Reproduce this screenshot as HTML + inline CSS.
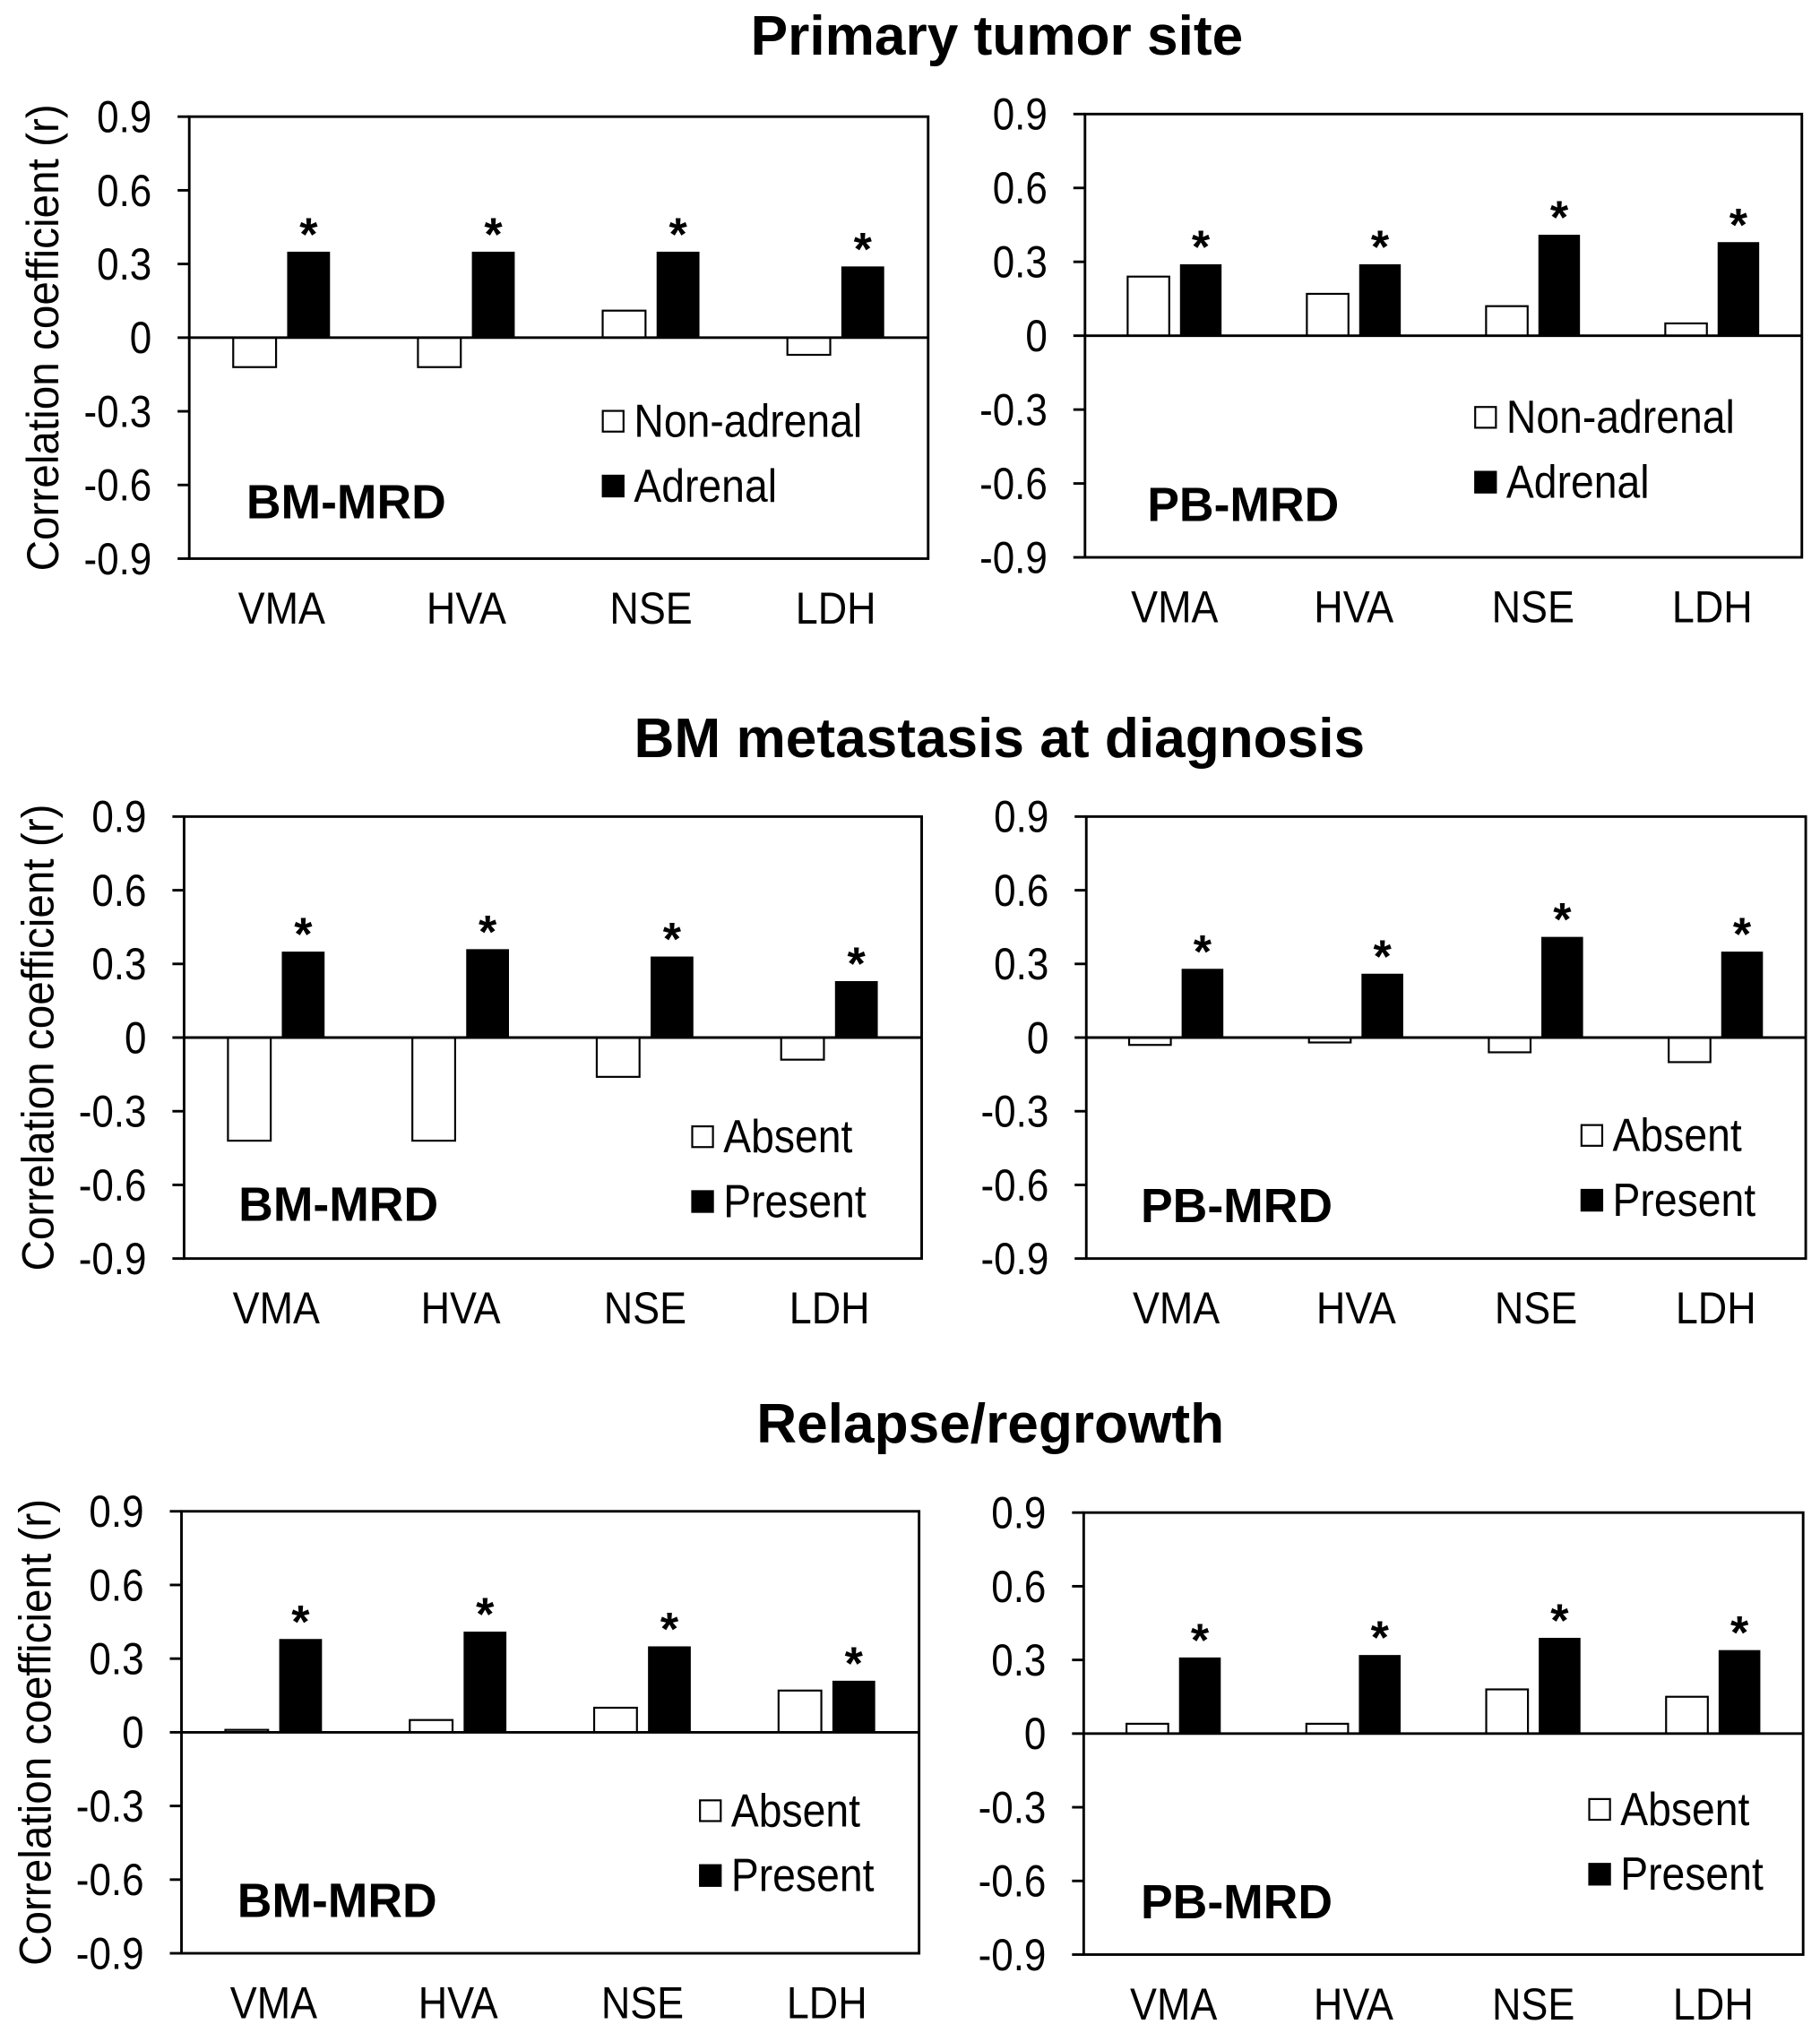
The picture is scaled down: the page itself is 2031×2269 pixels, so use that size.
<!DOCTYPE html>
<html><head><meta charset="utf-8"><style>
html,body{margin:0;padding:0;background:#fff}
svg{display:block}
text{font-family:"Liberation Sans",Arial,sans-serif;fill:#000}
</style></head><body>
<svg id="chart" width="2031" height="2269" viewBox="0 0 1404 1568.5" preserveAspectRatio="none" xmlns="http://www.w3.org/2000/svg">
<text x="769" y="42" font-size="43" font-weight="bold" text-anchor="middle">Primary tumor site</text>
<text x="771" y="584" font-size="43" font-weight="bold" text-anchor="middle">BM metastasis at diagnosis</text>
<text x="764" y="1113" font-size="43" font-weight="bold" text-anchor="middle">Relapse/regrowth</text>
</svg>
<script>
const categories = ["VMA","HVA","NSE","LDH"];
const tickValues = [0.9,0.6,0.3,0,-0.3,-0.6,-0.9];
const tickLabels = ["0.9","0.6","0.3","0","-0.3","-0.6","-0.9"];
const tlWhite = [-0.12,-0.12,0.11,-0.07];
const tlBlack = [0.35,0.35,0.35,0.29];
const trWhite = [0.24,0.17,0.12,0.05];
const trBlack = [0.29,0.29,0.41,0.38];
const mlWhite = [-0.42,-0.42,-0.16,-0.09];
const mlBlack = [0.35,0.36,0.33,0.23];
const mrWhite = [-0.03,-0.02,-0.06,-0.10];
const mrBlack = [0.28,0.26,0.41,0.35];
const blWhite = [0.01,0.05,0.10,0.17];
const blBlack = [0.38,0.41,0.35,0.21];
const brWhite = [0.04,0.04,0.18,0.15];
const brBlack = [0.31,0.32,0.39,0.34];
const legendA = ["Non-adrenal","Adrenal"];
const legendB = ["Absent","Present"];

const NS="http://www.w3.org/2000/svg";
const svg=document.getElementById('chart');
function mk(tag,attrs,parent){const e=document.createElementNS(NS,tag);for(const k in attrs)e.setAttribute(k,attrs[k]);(parent||svg).appendChild(e);return e;}

const panels=[
 {id:'tl',x0:146,x1:716,y0:90,y1:431,w:tlWhite,b:tlBlack,leg:legendA,lx:465,ly:325,lab:'BM-MRD',labx:190,laby:387,yt:true},
 {id:'tr',x0:837,x1:1390,y0:88,y1:430,w:trWhite,b:trBlack,leg:legendA,lx:1138,ly:322,lab:'PB-MRD',labx:885,laby:389,yt:false},
 {id:'ml',x0:142,x1:711,y0:630,y1:971,w:mlWhite,b:mlBlack,leg:legendB,lx:534,ly:877,lab:'BM-MRD',labx:184,laby:929,yt:true},
 {id:'mr',x0:838,x1:1393,y0:630,y1:971,w:mrWhite,b:mrBlack,leg:legendB,lx:1220,ly:876,lab:'PB-MRD',labx:880,laby:930,yt:false},
 {id:'bl',x0:140,x1:709,y0:1166,y1:1507,w:blWhite,b:blBlack,leg:legendB,lx:540,ly:1397,lab:'BM-MRD',labx:183,laby:1466,yt:true},
 {id:'br',x0:836,x1:1391,y0:1167,y1:1508,w:brWhite,b:brBlack,leg:legendB,lx:1226,ly:1396,lab:'PB-MRD',labx:880,laby:1467,yt:false}
];

panels.forEach(p=>{
  const g=mk('g',{});
  
  
  const yS=v=>p.y0+(0.9-v)/1.8*(p.y1-p.y0);
  const gw=(p.x1-p.x0)/4;
  const bw=gw*0.232, gap=gw*0.06;
  const box=mk('rect',{x:p.x0,y:p.y0,width:p.x1-p.x0,height:p.y1-p.y0,fill:'none',stroke:'#000','stroke-width':2},g);
  
  
  tickValues.forEach((v,i)=>{
    const y=yS(v);
    const t=mk('line',{x1:p.x0-9,x2:p.x0,y1:y,y2:y,stroke:'#000','stroke-width':2},g);
    
    
    const tx=mk('text',{x:0,y:0,'font-size':32,'text-anchor':'end',transform:`translate(${p.x0-29},${y+12}) scale(0.95,1.08)`},g);
    
    
    tx.textContent=tickLabels[i];
  });
  categories.forEach((c,i)=>{
    const cx=p.x0+gw*(i+0.5);
    const wv=p.w[i], bv=p.b[i];
    const wr=mk('rect',{x:cx-gap/2-bw,y:Math.min(yS(wv),yS(0)),width:bw,height:Math.abs(yS(wv)-yS(0)),fill:'#fff',stroke:'#000','stroke-width':1.5},g);
    
    
    const br=mk('rect',{x:cx+gap/2,y:Math.min(yS(bv),yS(0)),width:bw,height:Math.abs(yS(bv)-yS(0)),fill:'#000'},g);
    
    
    const st=mk('text',{x:cx+gap/2+bw/2,y:yS(bv)-1,'font-size':36,'font-weight':'bold','text-anchor':'middle'},g);
    
    
    st.textContent='*';
    const cl=mk('text',{x:0,y:0,'font-size':32,'text-anchor':'middle',transform:`translate(${cx},${p.y1+50}) scale(0.97,1.08)`},g);
    
    
    cl.textContent=c;
  });
  const z=mk('line',{x1:p.x0,x2:p.x1,y1:yS(0),y2:yS(0),stroke:'#000','stroke-width':2},g);
  
  
  p.leg.forEach((l,i)=>{
    const y=p.ly+i*50;
    const sq=mk('rect',{x:p.lx,y:y-8,width:16,height:16,fill:i?'#000':'#fff',stroke:'#000','stroke-width':1.5},g);
    
    
    const lt=mk('text',{x:0,y:0,'font-size':33,transform:`translate(${p.lx+24},${y+12}) scale(0.97,1.08)`},g);
    
    
    lt.textContent=l;
  });
  const lb=mk('text',{x:p.labx,y:p.laby+13,'font-size':37,'font-weight':'bold'},g);
  
  
  lb.textContent=p.lab;
  if(p.yt){
    const cy=(p.y0+p.y1)/2;
    const yt=mk('text',{x:0,y:0,'font-size':32,'text-anchor':'middle',transform:`translate(${p.x0-101},${cy}) rotate(-90) scale(1.03,1.08)`},g);
    
    
    yt.textContent='Correlation coefficient (r)';
  }
});
</script>
</body></html>
